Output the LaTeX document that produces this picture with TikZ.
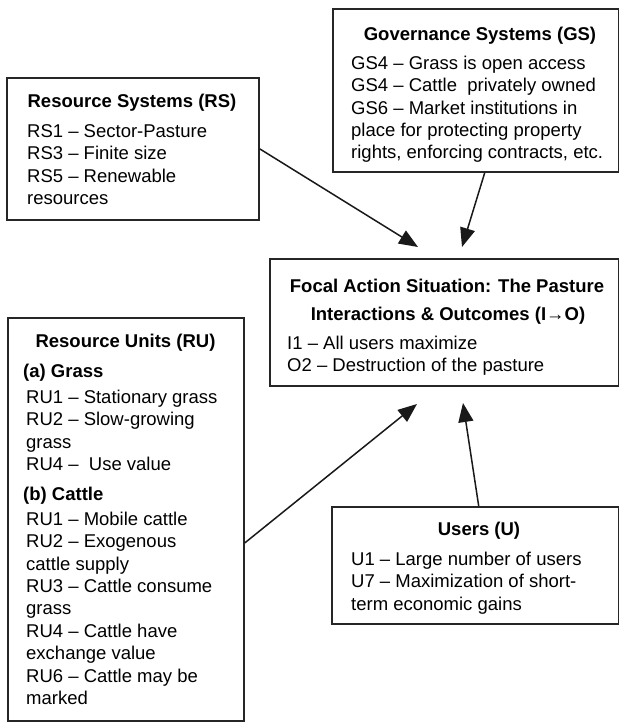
\documentclass[tikz,border=0pt]{standalone}
\usepackage{fontspec}
\setmainfont{Liberation Sans}
\usetikzlibrary{arrows.meta}
\tikzset{
  box/.style={draw=black!85, line width=1.8pt, rectangle, inner sep=0pt, anchor=north west},
  ttl/.style={font=\fontsize{18.5pt}{22.4pt}\selectfont\bfseries, inner sep=0pt, anchor=base},
  body/.style={font=\fontsize{18.5pt}{22.4pt}\selectfont, inner sep=0pt, align=left, anchor=north west},
  arr/.style={draw=black!90, line width=1.5pt, -{Triangle[length=19pt,width=15pt]}}
}
\begin{document}
\begin{tikzpicture}[x=1pt,y=-1pt]
\useasboundingbox (0,0) rectangle (619,723);
\fill[white] (0,0) rectangle (619,723);

% boxes
\node[box, minimum width=252pt, minimum height=142pt] (rs) at (6,77) {};
\node[box, minimum width=285.6pt, minimum height=163pt] (gs) at (332,8) {};
\node[box, minimum width=348.6pt, minimum height=127pt] (fa) at (269,258) {};
\node[box, minimum width=236pt, minimum height=403pt] (ru) at (7,317) {};
\node[box, minimum width=286.6pt, minimum height=117pt] (us) at (331,506) {};

% Resource Systems
\node[ttl] (rst) at (132,107) {Resource Systems (RS)};
\node[body] (rsb) at (27,119) {\rule{0pt}{18pt}RS1 – Sector-Pasture\\RS3 – Finite size\\RS5 – Renewable\\resources};

% Governance Systems
\node[ttl] (gst) at (480,40) {Governance Systems (GS)};
\node[body] (gsb) at (351,51) {\rule{0pt}{18pt}GS4 – Grass is open access\\GS4 – Cattle~ privately owned\\GS6 – Market institutions in\\place for protecting property\\rights, enforcing contracts, etc.};

% Focal action situation
\node[ttl] (fat1) at (447,292) {Focal Action Situation: The Pasture};
\node[ttl] (fat2) at (448,320) {Interactions \& Outcomes (I→O)};
\node[body] (fab) at (287,331) {\rule{0pt}{18pt}I1 – All users maximize\\O2 – Destruction of the pasture};

% Resource Units
\node[ttl] (rut) at (125.5,347) {Resource Units (RU)};
\node[ttl, anchor=base west] (rua) at (23,377) {(a) Grass};
\node[body] (ruab) at (26,385) {\rule{0pt}{18pt}RU1 – Stationary grass\\RU2 – Slow-growing\\grass\\RU4 –~ Use value};
\node[ttl, anchor=base west] (rubh) at (23,500) {(b) Cattle};
\node[body] (rubb) at (26,507) {\rule{0pt}{18pt}RU1 – Mobile cattle\\RU2 – Exogenous\\cattle supply\\RU3 – Cattle consume\\grass\\RU4 – Cattle have\\exchange value\\RU6 – Cattle may be\\marked};

% Users
\node[ttl] (ust) at (479,535) {Users (U)};
\node[body] (usb) at (351,547) {\rule{0pt}{18pt}U1 – Large number of users\\U7 – Maximization of short-\\term economic gains};

% arrow tips
\coordinate (tRS) at (418,247);
\coordinate (tGS) at (462,247);
\coordinate (tRU) at (417,404);
\coordinate (tUS) at (463,403);

\draw[arr] (rs.east) -- (tRS);
\draw[arr] ([xshift=9pt]gs.south) -- (tGS);
\draw[arr] ([yshift=-23.5pt]ru.east) -- (tRU);
\draw[arr] ([xshift=3.5pt]us.north) -- (tUS);
\end{tikzpicture}
\end{document}
